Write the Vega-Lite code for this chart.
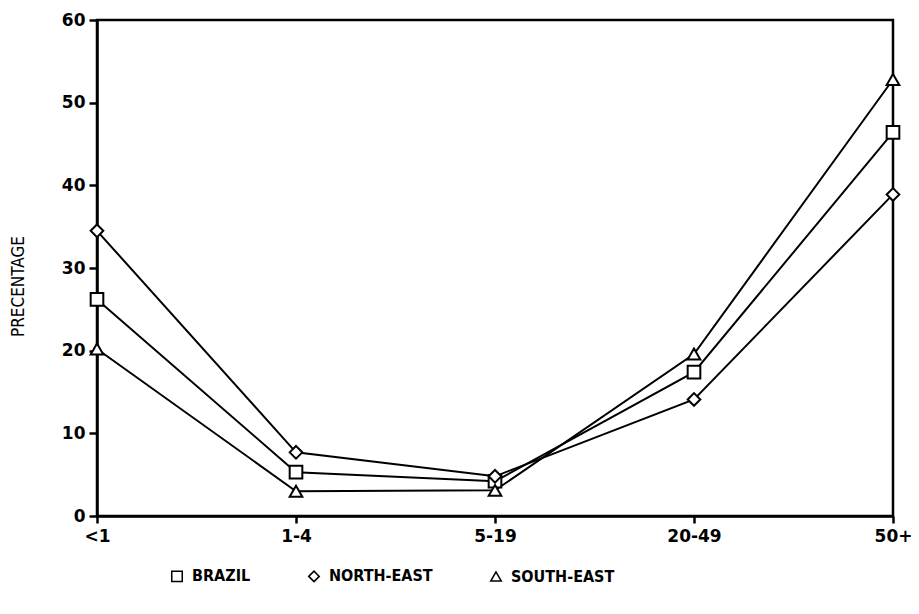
{
  "$schema": "https://vega.github.io/schema/vega-lite/v6.json",
  "autosize": "none",
  "width": 796,
  "height": 496,
  "padding": {"left": 97, "top": 20, "right": 26, "bottom": 98},
  "background": "white",
  "config": {
    "view": {"stroke": "black", "strokeWidth": 2.5},
    "axis": {"domainColor": "black", "domainWidth": 2.5, "tickColor": "black", "tickWidth": 2.5, "grid": false,
             "labelFont": "DejaVu Sans", "labelFontWeight": "bold", "labelColor": "black", "labelFontSize": 17,
             "titleFont": "DejaVu Sans Condensed", "titleFontWeight": "normal", "titleColor": "black"}
  },
  "data": {"values": [
    {"age": "<1", "region": "BRAZIL", "pct": 26.2},
    {"age": "1-4", "region": "BRAZIL", "pct": 5.3},
    {"age": "5-19", "region": "BRAZIL", "pct": 4.2},
    {"age": "20-49", "region": "BRAZIL", "pct": 17.4},
    {"age": "50+", "region": "BRAZIL", "pct": 46.4},
    {"age": "<1", "region": "NORTH-EAST", "pct": 34.5},
    {"age": "1-4", "region": "NORTH-EAST", "pct": 7.7},
    {"age": "5-19", "region": "NORTH-EAST", "pct": 4.8},
    {"age": "20-49", "region": "NORTH-EAST", "pct": 14.1},
    {"age": "50+", "region": "NORTH-EAST", "pct": 38.9},
    {"age": "<1", "region": "SOUTH-EAST", "pct": 20.2},
    {"age": "1-4", "region": "SOUTH-EAST", "pct": 3.0},
    {"age": "5-19", "region": "SOUTH-EAST", "pct": 3.1},
    {"age": "20-49", "region": "SOUTH-EAST", "pct": 19.6},
    {"age": "50+", "region": "SOUTH-EAST", "pct": 52.8}
  ]},
  "encoding": {
    "x": {"field": "age", "type": "ordinal", "sort": ["<1", "1-4", "5-19", "20-49", "50+"],
          "scale": {"type": "point", "padding": 0},
          "axis": {"title": null, "labelAngle": 0, "tickSize": 7, "labelPadding": 5}},
    "y": {"field": "pct", "type": "quantitative", "scale": {"domain": [0, 60], "nice": false},
          "axis": {"title": "PRECENTAGE", "values": [0, 10, 20, 30, 40, 50, 60], "tickSize": 8, "labelPadding": 4,
                   "titleFontSize": 17, "titlePadding": 34, "titleY": 266}}
  },
  "layer": [
    {"mark": {"type": "line", "color": "black", "strokeWidth": 2}, "encoding": {"detail": {"field": "region"}}},
    {"mark": {"type": "point", "filled": true, "fill": "white", "stroke": "black", "strokeWidth": 2, "size": 160, "opacity": 1},
     "encoding": {"shape": {"field": "region", "type": "nominal",
        "scale": {"domain": ["BRAZIL", "NORTH-EAST", "SOUTH-EAST"], "range": ["square", "diamond", "triangle-up"]},
        "legend": {"title": null, "orient": "none", "direction": "horizontal", "legendX": 72, "legendY": 548,
                   "labelFont": "DejaVu Sans Condensed", "labelFontWeight": "bold", "labelFontSize": 16, "labelColor": "black",
                   "symbolSize": 110, "columnPadding": 54, "labelOffset": 7,
                   "encode": {"symbols": {"update": {"stroke": {"value": "black"}, "strokeWidth": {"value": 3}, "fill": {"value": "white"}, "opacity": {"value": 1}, "fillOpacity": {"value": 1}, "strokeOpacity": {"value": 1}}}}}}}}
  ]
}
